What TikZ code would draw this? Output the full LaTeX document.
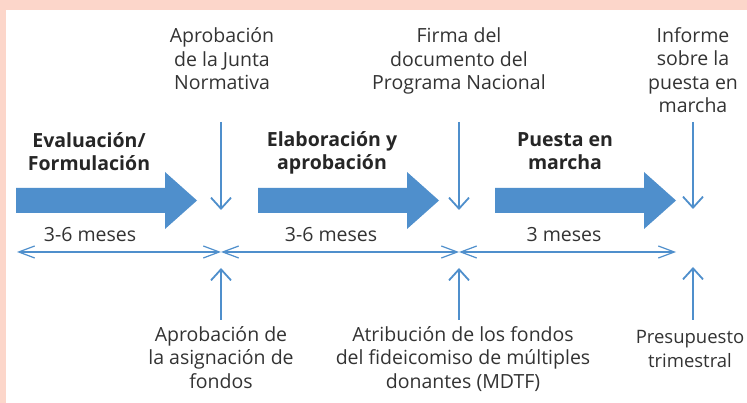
\documentclass[tikz,border=0pt]{standalone}
\usepackage{fontspec}
\setmainfont{Open Sans}
\usetikzlibrary{arrows.meta,positioning}
\definecolor{flowblue}{HTML}{4F8FCC}
\definecolor{framepink}{HTML}{FCD6CA}
\definecolor{txtgray}{HTML}{333333}

\begin{document}
\begin{tikzpicture}[
    x=1pt, y=-1pt,
    every node/.style={text=txtgray, align=center, inner sep=0pt, anchor=base,
        font=\fontsize{19.5}{23.5}\selectfont},
    phase/.style={font=\fontsize{19.5}{23.5}\selectfont\bfseries, text=black!85},
    event/.style={draw=flowblue, line width=1.8pt, -{Straight Barb[length=11pt,width=20pt]}},
    span/.style={draw=flowblue, line width=1.2pt,
        {Straight Barb[length=16pt,width=12pt]}-{Straight Barb[length=16pt,width=12pt]}}
]
    % frame
    \fill[framepink] (0,0) rectangle (747,403);
    \fill[white] (6,10) rectangle (747,403);
    \useasboundingbox (0,0) rectangle (747,403);

    % phase arrows
    \foreach \x in {16,258,495}
        \fill[flowblue] (\x,188) -- ++(149,0) -- ++(0,-16) -- ++(32,28.5)
            -- ++(-32,28.5) -- ++(0,-16) -- ++(-149,0) -- cycle;

    % phase names (anchored at last baseline)
    \node[phase] (eval) at (89,171) {Evaluación/\\Formulación};
    \node[phase] (elab) at (332,170) {Elaboración y\\aprobación};
    \node[phase] (puesta) at (565,170) {Puesta en\\marcha};

    % durations
    \node (dur1) at (90,242) {3-6 meses};
    \node (dur2) at (331,242) {3-6 meses};
    \node (dur3) at (564,242) {3 meses};

    % milestones
    \node (junta) at (222,90) {Aprobación\\de la Junta\\Normativa};
    \node (firma) at (459,90) {Firma del\\documento del\\Programa Nacional};
    \node (informe) at (693,113) {Informe\\sobre la\\puesta en\\marcha};
    \node (asign) at (221,388) {Aprobación de\\la asignación de\\fondos};
    \node (mdtf) at (463,388) {Atribución de los fondos\\del fideicomiso de múltiples\\donantes (MDTF)};
    \node[font=\fontsize{18.5}{23.5}\selectfont] (presup) at (690,367) {Presupuesto\\trimestral};

    % timeline
    \coordinate (t0) at (17,252);
    \coordinate (t1) at (221,252);
    \coordinate (t2) at (459,252);
    \coordinate (t3) at (676,252);
    \draw[span] (t0) -- (t1);
    \draw[span] (t1) -- (t2);
    \draw[span] (t2) -- (t3);

    % event arrows
    \coordinate (in1) at (221,122);
    \coordinate (in2) at (459,122);
    \coordinate (in3) at (693,122);
    \coordinate (hit1) at (221,210);
    \coordinate (hit2) at (459,210);
    \coordinate (hit3) at (693,209);
    \coordinate (up1) at (221,268);
    \coordinate (up2) at (459,268);
    \coordinate (up3) at (693,267);
    \coordinate (low1) at (221,320);
    \coordinate (low2) at (459,320);
    \coordinate (low3) at (693,320);
    \foreach \i in {1,2,3} {
        \draw[event] (in\i) -- (hit\i);
        \draw[event] (low\i) -- (up\i);
    }
\end{tikzpicture}
\end{document}
